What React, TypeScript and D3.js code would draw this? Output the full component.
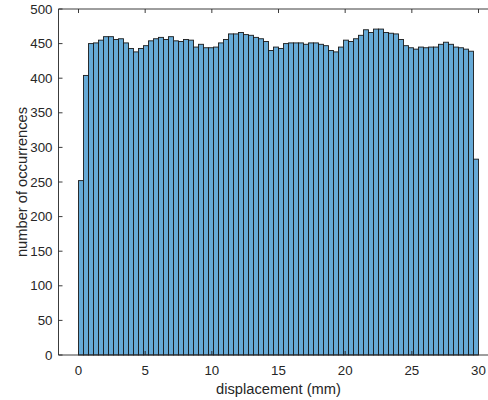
import React from "react";
import * as d3 from "d3";

// Histogram bin counts: 80 bins of equal width spanning 0–30 mm
const binStart = 0;
const binEnd = 30;
const counts: number[] = [
  252, 404, 450, 451, 455, 460, 460, 456, 457, 451,
  443, 438, 443, 447, 454, 457, 459, 456, 460, 454,
  453, 456, 455, 445, 449, 444, 444, 445, 451, 456,
  464, 464, 466, 463, 462, 459, 457, 453, 440, 445,
  443, 450, 451, 451, 451, 449, 451, 451, 449, 447,
  440, 438, 445, 455, 453, 457, 462, 470, 466, 471,
  471, 466, 465, 464, 456, 447, 444, 442, 445, 444,
  445, 445, 449, 452, 449, 445, 444, 442, 439, 283,
];
const xTicks: number[] = [0, 5, 10, 15, 20, 25, 30];
const yTicks: number[] = [0, 50, 100, 150, 200, 250, 300, 350, 400, 450, 500];
const xLabel = "displacement (mm)";
const yLabel = "number of occurrences";

const W = 488;
const H = 400;
const axisColor = "#262626";
const font = "'Liberation Sans', Arial, Helvetica, sans-serif";

export default function App() {
  const x = d3.scaleLinear().domain([-1.5, 31.5]).range([58.5, 498.5]);
  const y = d3.scaleLinear().domain([0, 500]).range([355, 9]);
  const binW = (binEnd - binStart) / counts.length;
  const [x0, x1] = x.range();
  const [y0, y1] = y.range();
  const tickLen = 4;

  return (
    <svg
      width={W}
      height={H}
      style={{ position: "absolute", left: 0, top: 0, background: "#fff" }}
    >
      <rect x={0} y={0} width={W} height={H} fill="#fff" />
      {/* bars */}
      <g>
        {counts.map((c, i) => {
          const a = x(binStart + i * binW);
          const b = x(binStart + (i + 1) * binW);
          return (
            <rect
              key={i}
              x={a}
              y={y(c)}
              width={b - a}
              height={y(0) - y(c)}
              fill="#66AAD7"
              stroke="#1a1a1a"
              strokeWidth={0.9}
            />
          );
        })}
      </g>
      {/* axes box */}
      <g stroke={axisColor} strokeWidth={0.9} fill="none">
        <line x1={x0} y1={y0} x2={x1} y2={y0} />
        <line x1={x0} y1={y1} x2={x1} y2={y1} />
        <line x1={x0} y1={y0} x2={x0} y2={y1} />
        <line x1={x1} y1={y0} x2={x1} y2={y1} />
        {xTicks.map((t) => (
          <g key={"xt" + t}>
            <line x1={x(t)} y1={y0} x2={x(t)} y2={y0 - tickLen} />
            <line x1={x(t)} y1={y1} x2={x(t)} y2={y1 + tickLen} />
          </g>
        ))}
        {yTicks.map((t) => (
          <g key={"yt" + t}>
            <line x1={x0} y1={y(t)} x2={x0 + tickLen} y2={y(t)} />
            <line x1={x1} y1={y(t)} x2={x1 - tickLen} y2={y(t)} />
          </g>
        ))}
      </g>
      {/* tick labels */}
      <g fill={axisColor} fontFamily={font} fontSize={13.3}>
        {xTicks.map((t) => (
          <text key={"xl" + t} x={x(t)} y={375} textAnchor="middle">
            {t}
          </text>
        ))}
        {yTicks.map((t) => (
          <text
            key={"yl" + t}
            x={x0 - 6}
            y={y(t)}
            textAnchor="end"
            dominantBaseline="central"
          >
            {t}
          </text>
        ))}
      </g>
      {/* axis labels */}
      <text
        x={(x0 + x1) / 2}
        y={394}
        textAnchor="middle"
        fontFamily={font}
        fontSize={14.7}
        fill={axisColor}
      >
        {xLabel}
      </text>
      <text
        transform={`translate(22,${(y0 + y1) / 2}) rotate(-90)`}
        textAnchor="middle"
        dominantBaseline="central"
        fontFamily={font}
        fontSize={14.7}
        fill={axisColor}
      >
        {yLabel}
      </text>
    </svg>
  );
}
